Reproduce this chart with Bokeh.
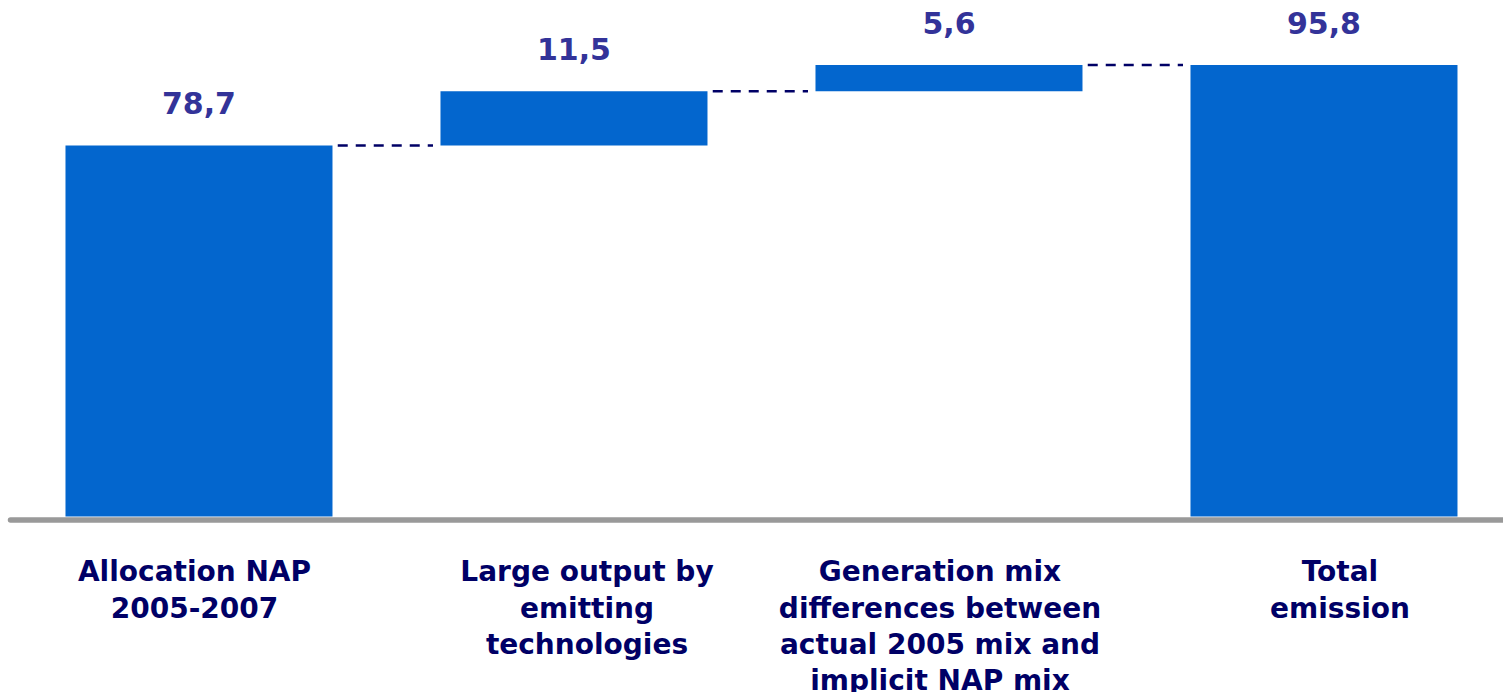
from bokeh.plotting import figure
from bokeh.models import ColumnDataSource
from bokeh.core.properties import value
from bokeh.embed import file_html
from bokeh.resources import INLINE

# ---- data ----
categories = [
    "Allocation NAP\n2005-2007",
    "Large output by\nemitting\ntechnologies",
    "Generation mix\ndifferences between\nactual 2005 mix and\nimplicit NAP mix",
    "Total\nemission",
]
values = [78.7, 11.5, 5.6, 95.8]
value_labels = ["78,7", "11,5", "5,6", "95,8"]
kinds = ["total", "step", "step", "total"]

# ---- waterfall geometry ----
xs = list(range(len(values)))
bottoms, tops = [], []
running = 0.0
for v, k in zip(values, kinds):
    if k == "total":
        bottoms.append(0.0)
        tops.append(v)
        running = v
    else:
        bottoms.append(running)
        running += v
        tops.append(running)

BAR_W = 0.712
BLUE = "#0366CE"
LABEL_BLUE = "#333399"
NAVY = "#000066"
FONT = "DejaVu Sans"

p = figure(width=1503, height=692, output_backend="svg", toolbar_location=None,
           x_range=(-0.5293, 3.4787), y_range=(-37.34, 109.46),
           min_border=0, outline_line_color=None)
p.axis.visible = False
p.grid.visible = False
p.background_fill_color = "white"
p.border_fill_color = "white"

src = ColumnDataSource(dict(x=xs, bottom=bottoms, top=tops, lab=value_labels,
                            cat=categories,
                            cat_dx=[-4.5, 13, -9, 16]))

p.vbar(x="x", width=BAR_W, bottom="bottom", top="top", source=src,
       fill_color=BLUE, line_color=None)

# dashed connectors between consecutive bars
cx0, cx1, cy = [], [], []
for i in range(len(values) - 1):
    cx0.append(xs[i] + BAR_W / 2 + 0.014)
    cx1.append(xs[i + 1] - BAR_W / 2 - 0.02)
    cy.append(tops[i])
p.segment(x0=cx0, y0=cy, x1=cx1, y1=cy, line_color=NAVY, line_width=2.5,
          line_dash="10 8")

# baseline
p.segment(x0=[-0.5293 + 10 / 375], y0=[-0.75], x1=[3.6], y1=[-0.75],
          line_color="#999999", line_width=5.5, line_cap="round")

# value labels above bars
p.text(x="x", y="top", text="lab", source=src, text_align="center",
       text_baseline="middle", y_offset=-42, text_font=value(FONT),
       text_font_style="bold", text_font_size="30px", text_color=LABEL_BLUE)

# category labels below baseline
p.text(x="x", y=0, text="cat", source=src, text_align="center",
       text_baseline="top", x_offset="cat_dx", y_offset=39,
       text_font=value(FONT), text_font_style="bold", text_font_size="28px",
       text_color=NAVY, text_line_height=1.1)

open("out.html", "w").write(file_html(p, INLINE))
